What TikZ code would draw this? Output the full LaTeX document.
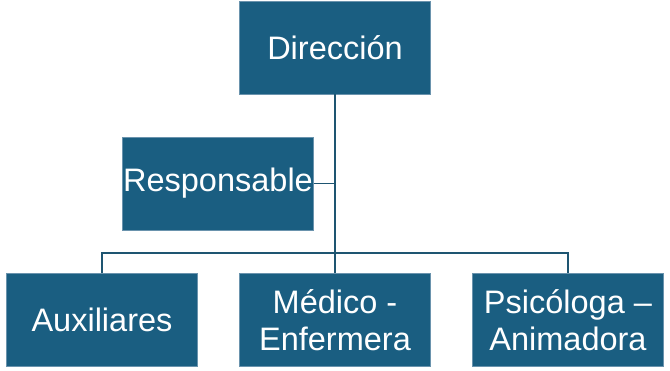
\documentclass[tikz,border=0pt]{standalone}
\usepackage{fontspec}
\setmainfont{Liberation Sans}
\definecolor{boxfill}{HTML}{1A5E81}
\definecolor{boxline}{HTML}{6A93AD}
\definecolor{conn}{HTML}{1E5571}
\begin{document}
\begin{tikzpicture}[x=1pt,y=-1pt,
  orgbox/.style={draw=boxline,line width=0.8pt,fill=boxfill,text=white,
    minimum width=191pt,minimum height=93pt,inner sep=0pt,align=center,
    font=\fontsize{32.5}{37}\selectfont},
  link/.style={draw=conn,line width=1.8pt}]
\useasboundingbox (0,0) rectangle (670,371);
\node[orgbox] (dir) at (335,47.5) {Dirección};
\node[orgbox] (resp) at (218,183.5) {Responsable};
\node[orgbox] (aux) at (102,320) {Auxiliares};
\node[orgbox] (med) at (335,320) {Médico -\\Enfermera};
\node[orgbox] (psi) at (568,320) {Psicóloga –\\Animadora};
\coordinate (bar) at (335,253);
\draw[link] (dir.south) -- (bar);
\draw[link] (resp.east) -- (resp.east -| dir.south);
\draw[link] (aux.north) |- (bar) -| (psi.north);
\draw[link] (bar) -- (med.north);
\end{tikzpicture}
\end{document}
